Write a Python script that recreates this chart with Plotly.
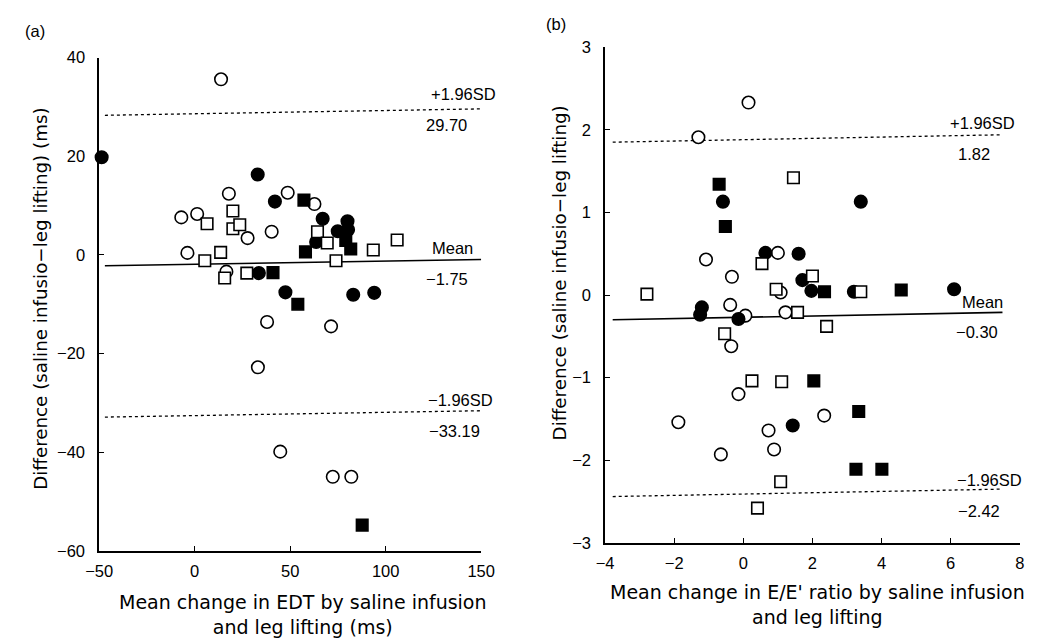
import plotly.graph_objects as go

W, H = 1050, 638

# ---------------- Panel (a): EDT ----------------
a_oc_x = [13.8, 17.9, 48.7, 62.7, 1.3, -7.0, 27.7, 40.3, -3.8, 16.6, 37.9, 71.4, 33.1, 44.8, 72.3, 82.0]
a_oc_y = [35.6, 12.4, 12.6, 10.3, 8.3, 7.6, 3.4, 4.7, 0.4, -3.4, -13.6, -14.5, -22.8, -39.9, -45.0, -45.0]

a_fc_x = [-48.7, 33.0, 42.0, 67.0, 63.6, 74.9, 80.0, 80.3, 33.6, 47.5, 83.0, 94.0]
a_fc_y = [19.8, 16.3, 10.8, 7.3, 2.6, 4.8, 6.8, 5.1, -3.7, -7.6, -8.1, -7.7]

a_os_x = [20.0, 6.5, 20.0, 23.6, 64.3, 69.4, 93.5, 106.0, 13.6, 5.3, 74.0, 15.7, 27.3]
a_os_y = [8.9, 6.3, 5.3, 6.1, 4.7, 2.4, 1.0, 3.0, 0.5, -1.2, -1.2, -4.7, -3.7]

a_fs_x = [57.2, 79.1, 81.7, 58.0, 41.0, 54.0, 87.7]
a_fs_y = [11.1, 2.9, 1.2, 0.6, -3.6, -10.0, -54.8]

a_line_x = [-47, 150]
a_upper = [28.3, 29.6]
a_mean = [-2.2, -0.95]
a_lower = [-32.9, -31.6]
a_labels = ["+1.96SD", "29.70", "Mean", "\u22121.75", "\u22121.96SD", "\u221233.19"]

# ---------------- Panel (b): E/E' ----------------
b_oc_x = [0.15, -1.3, 1.0, -1.08, -0.33, 1.08, -0.38, 0.06, 1.22, -0.35, -0.14, 2.34, -1.88, 0.73, 0.89, -0.65]
b_oc_y = [2.33, 1.91, 0.51, 0.43, 0.22, 0.03, -0.12, -0.25, -0.21, -0.62, -1.20, -1.46, -1.54, -1.64, -1.87, -1.93]

b_fc_x = [-0.59, 3.4, 0.64, 1.6, 1.71, 1.97, 3.2, 6.1, -1.2, -1.25, -0.14, 1.43]
b_fc_y = [1.13, 1.13, 0.51, 0.50, 0.18, 0.05, 0.04, 0.07, -0.15, -0.24, -0.29, -1.58]

b_os_x = [1.45, 0.54, 2.0, -2.79, 0.95, 3.4, 1.57, 2.41, -0.54, 0.25, 1.11, 1.08, 0.41]
b_os_y = [1.42, 0.38, 0.23, 0.01, 0.07, 0.04, -0.21, -0.38, -0.47, -1.04, -1.05, -2.26, -2.58]

b_fs_x = [-0.7, -0.52, 2.35, 4.57, 2.04, 3.34, 3.26, 4.01]
b_fs_y = [1.34, 0.83, 0.04, 0.06, -1.04, -1.41, -2.11, -2.11]

b_line_x = [-3.78, 7.5]
b_upper = [1.85, 1.94]
b_mean = [-0.30, -0.21]
b_lower = [-2.44, -2.35]
b_labels = ["+1.96SD", "1.82", "Mean", "\u22120.30", "\u22121.96SD", "\u22122.42"]

FONT = "Liberation Sans, Arial, sans-serif"
TFONT = "DejaVu Sans, sans-serif"

fig = go.Figure()


def add_markers(x, y, xa, ya, symbol, filled, size):
    fig.add_trace(go.Scatter(
        x=x, y=y, xaxis=xa, yaxis=ya, mode="markers", cliponaxis=False,
        marker=dict(symbol=symbol, size=size,
                    color="black" if filled else "white",
                    line=dict(color="black", width=1.6)),
        showlegend=False, hoverinfo="skip"))


def add_line(x, y, xa, ya, dash, width):
    fig.add_trace(go.Scatter(
        x=x, y=y, xaxis=xa, yaxis=ya, mode="lines",
        line=dict(color="black", dash=dash, width=width),
        showlegend=False, hoverinfo="skip"))


for xa, ya, lx, up, mn, lo in [("x", "y", a_line_x, a_upper, a_mean, a_lower),
                               ("x2", "y2", b_line_x, b_upper, b_mean, b_lower)]:
    add_line(lx, up, xa, ya, "dot", 1.3)
    add_line(lx, lo, xa, ya, "dot", 1.3)
    add_line(lx, mn, xa, ya, "solid", 1.6)

add_markers(a_oc_x, a_oc_y, "x", "y", "circle", False, 12.5)
add_markers(a_fc_x, a_fc_y, "x", "y", "circle", True, 12.5)
add_markers(a_os_x, a_os_y, "x", "y", "square", False, 11.5)
add_markers(a_fs_x, a_fs_y, "x", "y", "square", True, 11.5)

add_markers(b_oc_x, b_oc_y, "x2", "y2", "circle", False, 12.5)
add_markers(b_fc_x, b_fc_y, "x2", "y2", "circle", True, 12.5)
add_markers(b_os_x, b_os_y, "x2", "y2", "square", False, 11.5)
add_markers(b_fs_x, b_fs_y, "x2", "y2", "square", True, 11.5)

axis_common = dict(showline=True, linecolor="black", linewidth=1.6, ticks="inside",
                   ticklen=5, tickwidth=1.3, tickcolor="black", showgrid=False,
                   zeroline=False, tickfont=dict(family=FONT, size=16.5, color="black"),
                   mirror=False)

fig.update_layout(
    width=W, height=H, margin=dict(l=0, r=0, t=0, b=0),
    paper_bgcolor="white", plot_bgcolor="white",
    xaxis=dict(domain=[87.5 / W, 480 / W], range=[-50, 150], tickvals=[-50, 0, 50, 100, 150],
               anchor="y", ticklabelstandoff=5, **axis_common),
    yaxis=dict(domain=[1 - 557.5 / H, 1 - 50 / H], range=[-60, 40], tickvals=[-60, -40, -20, 0, 20, 40],
               anchor="x", ticklabelstandoff=9, **axis_common),
    xaxis2=dict(domain=[607.3 / W, 1033.3 / W], range=[-4, 8], tickvals=[-4, -2, 0, 2, 4, 6, 8],
                anchor="y2", ticklabelstandoff=5, **axis_common),
    yaxis2=dict(domain=[1 - 549.3 / H, 1 - 39.3 / H], range=[-3, 3], tickvals=[-3, -2, -1, 0, 1, 2, 3],
                anchor="x2", ticklabelstandoff=9, **axis_common),
)


def ann(px, py, text, size=16, family=FONT, angle=0, xanchor="center"):
    fig.add_annotation(x=px / W, y=1 - py / H, xref="paper", yref="paper", text=text,
                       showarrow=False, textangle=angle, xanchor=xanchor, yanchor="middle",
                       font=dict(family=family, size=size, color="black"))


# Panel letters
ann(22, 23, "(a)", size=16.5)
ann(557, 15, "(b)", size=16.5)

# Limit labels panel (a) (right-aligned near line ends)
a_pos = [(497, 87), (467, 119), (474, 246), (468, 278), (494, 402), (481, 434)]
for (px, py), t in zip(a_pos, a_labels):
    ann(px, py, t, size=16.5, xanchor="right")

b_pos = [(1030, 117), (1005, 149), (1018, 302), (1013, 332), (1038, 485), (1015, 517)]
for (px, py), t in zip(b_pos, b_labels):
    ann(px, py, t, size=16.5, xanchor="right")

# Axis titles
ann(297, 623, "Mean change in EDT by saline infusion<br>and leg lifting (ms)", size=19, family=TFONT)
ann(27, 298, "Difference (saline infusio\u2212leg lifting) (ms)", size=18.3, family=TFONT, angle=-90)
ann(825, 613, "Mean change in E/E' ratio by saline infusion<br>and leg lifting", size=19, family=TFONT)
ann(560, 272, "Difference (saline infusio\u2212leg lifting)", size=18.3, family=TFONT, angle=-90)

fig.write_html("out.html")
